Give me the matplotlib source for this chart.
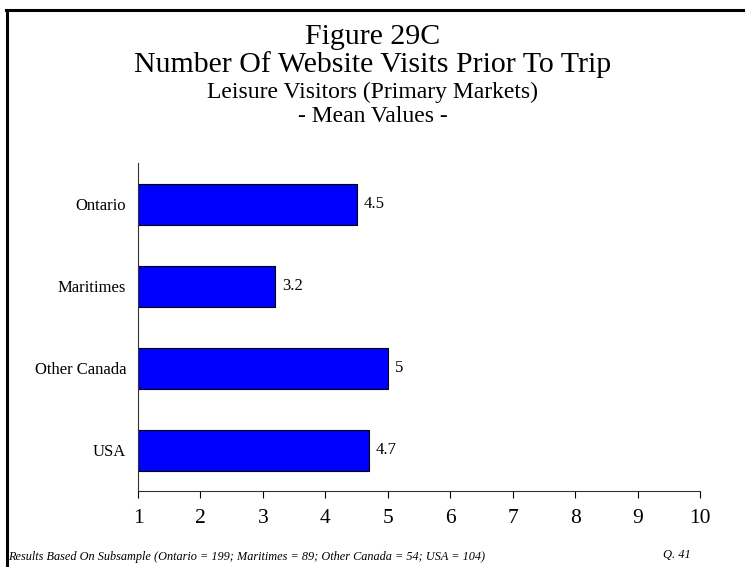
import matplotlib.pyplot as plt
from matplotlib.lines import Line2D

categories = ["USA", "Other Canada", "Maritimes", "Ontario"]
values = [4.7, 5.0, 3.2, 4.5]
value_labels = ["4.7", "5", "3.2", "4.5"]
xticks = [1, 2, 3, 4, 5, 6, 7, 8, 9, 10]

plt.rcParams['font.family'] = ['Liberation Serif', 'DejaVu Serif']

fig = plt.figure(figsize=(7.45, 5.67), dpi=100)
ax = fig.add_axes([138 / 745, 76 / 567, 562 / 745, 328 / 567])

# bars start at 1 (axis origin)
ypos = list(range(len(categories)))
ax.barh(ypos, [v - 1 for v in values], left=1, height=0.5,
        color='#0000ff', edgecolor='black', linewidth=0.8)
for y, v, lab in zip(ypos, values, value_labels):
    ax.annotate(lab, (v, y), xytext=(5, 0), textcoords='offset points',
                va='center', ha='left', fontsize=12)

ax.set_xlim(1, 10)
ax.set_ylim(-0.5, 3.5)
ax.set_xticks(xticks)
ax.set_xticklabels([str(t) for t in xticks], fontsize=15.5)
ax.set_yticks(ypos)
ax.set_yticklabels(categories, fontsize=12)
ax.tick_params(axis='y', length=0, pad=8.5)
ax.tick_params(axis='x', length=5, width=0.8, pad=8, direction='out')
for s in ['top', 'right']:
    ax.spines[s].set_visible(False)
for s in ['left', 'bottom']:
    ax.spines[s].set_linewidth(0.8)
    ax.spines[s].set_color('#333333')

fig.text(0.5, 1 - 37 / 567, "Figure 29C", ha='center', va='center', fontsize=21.5)
fig.text(0.5, 1 - 65 / 567, "Number Of Website Visits Prior To Trip", ha='center', va='center', fontsize=21.5)
fig.text(0.5, 1 - 92 / 567, "Leisure Visitors (Primary Markets)", ha='center', va='center', fontsize=17)
fig.text(0.5, 1 - 116 / 567, "- Mean Values -", ha='center', va='center', fontsize=17)

fig.text(8 / 745, 1 - 557 / 567, "Results Based On Subsample (Ontario = 199; Maritimes = 89; Other Canada = 54; USA = 104)",
         ha='left', va='center', fontsize=8.8, style='italic')
fig.text(663 / 745, 1 - 555 / 567, "Q. 41", ha='left', va='center', fontsize=9, style='italic')

# frame lines (left and top)
fig.add_artist(Line2D([7.5 / 745, 7.5 / 745], [0, 1 - 9.5 / 567], transform=fig.transFigure,
                      color='black', linewidth=2.2))
fig.add_artist(Line2D([6 / 745, 1], [1 - 9.5 / 567, 1 - 9.5 / 567], transform=fig.transFigure,
                      color='black', linewidth=2.2))

fig.savefig("out.png", dpi=100)
